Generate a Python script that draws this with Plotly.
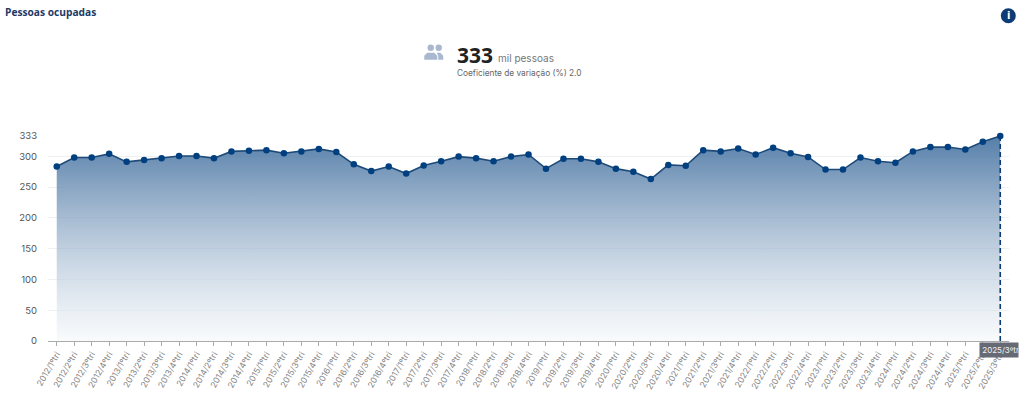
import plotly.graph_objects as go

anos_tri = [f"{a}/{t}ºtri" for a in range(2012, 2026) for t in (1, 2, 3, 4)][:55]
valores = [283.5, 298, 298, 304, 291, 294, 297, 300.5, 300.5, 297, 308, 309, 310, 305, 308, 312,
           307, 287, 276, 283.5, 272, 285, 292, 299.5, 297, 292, 299.5, 303, 280, 296, 296, 291,
           280, 275, 263, 286, 284.6, 310, 308, 312.6, 303, 314, 305, 299, 278.5, 278.5, 298, 292,
           289.5, 308, 315, 315, 311, 323.6, 333]
y_ticks = [0, 50, 100, 150, 200, 250, 300, 333]

W, H = 1024, 409
L, R, T, B = 47.8, 15.3, 136.3, 67.5
NAVY = "#0b3c75"
GRAY = "#666a75"

def px(x):
    return (x - L) / (W - L - R)

def py(y):
    return 1 - (y - T) / (H - T - B)

def circle(cx, cy, rx, ry, color):
    return dict(type="circle", xref="paper", yref="paper", x0=px(cx - rx), x1=px(cx + rx),
                y0=py(cy + ry), y1=py(cy - ry), fillcolor=color, line_width=0, layer="above")

def path(points, color):
    d = "M " + " L ".join(f"{px(a):.5f},{py(b):.5f}" for a, b in points) + " Z"
    return dict(type="path", xref="paper", yref="paper", path=d, fillcolor=color, line_width=0, layer="above")

ICON = "#aab8cf"
shapes = [
    circle(430.5, 48, 3.2, 3.2, ICON), circle(438.5, 48, 3.2, 3.2, ICON),
    path([(424, 60), (424, 56), (427, 53), (434, 53), (437, 56), (437, 60)], ICON),
    path([(438, 60), (438, 56), (436.5, 53), (440, 53), (443, 56), (443, 60)], ICON),
    circle(1008, 16, 7.5, 7.5, NAVY),
]

fig = go.Figure()
fig.add_trace(go.Scatter(
    x=anos_tri, y=valores, mode="lines+markers", fill="tozeroy", hoverinfo="skip", cliponaxis=False,
    line=dict(color="#1d4a78", width=1.6),
    marker=dict(color="#004080", size=6.5),
    fillgradient=dict(type="vertical",
                      colorscale=[[0, "rgba(244,247,250,0.55)"], [1, "rgba(72,116,162,0.93)"]]),
))
fig.add_trace(go.Scatter(
    x=[anos_tri[-1], anos_tri[-1]], y=[0, valores[-1]], mode="lines", hoverinfo="skip",
    line=dict(color="#0b3c75", width=1.6, dash="5px,3px"), cliponaxis=False,
))

def text(x, y, s, size, color, family="Inter", anchor="left", bold=False):
    fig.add_annotation(xref="paper", yref="paper", x=px(x), y=py(y), text=f"<b>{s}</b>" if bold else s,
                       showarrow=False, xanchor=anchor, yanchor="middle", borderpad=0,
                       font=dict(size=size, color=color, family=family))

text(4, 12, "Pessoas ocupadas", 10.2, "#1c3a66", "Open Sans", bold=True)
text(456, 55, "333", 21, "#222222", "Open Sans", bold=True)
text(497, 58, "mil pessoas", 10, "#777777", "Inter")
text(456, 73, "Coeficiente de variação (%) 2.0", 8.3, "#666666", "Inter")
text(1008, 16, "i", 10, "#ffffff", "DejaVu Sans", anchor="center", bold=True)

fig.add_annotation(xref="x", yref="paper", x=anos_tri[-1], y=py(351), text="\u00a0" + anos_tri[-1], showarrow=False,
                   xanchor="center", yanchor="middle", bgcolor=GRAY, width=38, height=14, align="left",
                   xshift=-1.5, borderpad=0, font=dict(size=8, color="#f2f2f2", family="Inter"))

fig.update_layout(
    width=W, height=H, autosize=False, showlegend=False,
    paper_bgcolor="white", plot_bgcolor="white",
    margin=dict(l=L, r=R, t=T, b=B, pad=0),
    shapes=shapes,
    xaxis=dict(type="category", categoryorder="array", categoryarray=anos_tri, range=[-0.5, 54.5],
               tickmode="array", tickvals=anos_tri, ticktext=anos_tri, tickangle=-60, ticks="outside",
               ticklen=4, tickcolor="#aaaaaa", showline=True, linecolor="#aaaaaa", linewidth=1,
               showgrid=False, tickfont=dict(size=8.5, color="#858585", family="Inter"), automargin=False),
    yaxis=dict(range=[0, 333], tickmode="array", tickvals=y_ticks, ticktext=[str(v) for v in y_ticks],
               showgrid=True, gridcolor="#eef1f3", gridwidth=1, zeroline=False, showline=False,
               ticks="", ticklabelstandoff=10,
               tickfont=dict(size=9.5, color="#555555", family="Inter"), automargin=False),
)

fig.write_html("out.html", config=dict(displayModeBar=False),
               post_script="document.body.style.margin='0';document.body.style.overflow='hidden';")
